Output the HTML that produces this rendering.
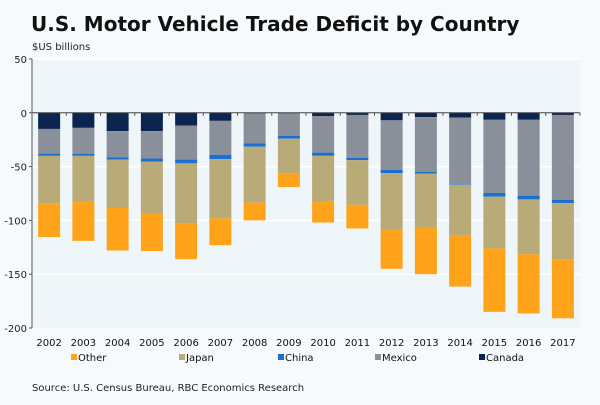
<!DOCTYPE html>
<html><head><meta charset="utf-8"><style>
body{margin:0;background:#f6fafc;}
svg{display:block;font-family:"DejaVu Sans","Liberation Sans",sans-serif;}
</style></head><body>
<svg width="600" height="405" id="c">
<rect x="0" y="0" width="600" height="405" fill="#f6fafc"/>
<text x="31" y="31" font-size="20" font-weight="bold" fill="#111">U.S. Motor Vehicle Trade Deficit by Country</text>
<text x="32" y="50" font-size="10" fill="#222">$US billions</text>
<rect x="32" y="59" width="548" height="269" fill="#eef6fa"/>
<g id="grid"></g><g id="bars"></g><g id="axes"></g><g id="legend"></g>
<text x="32" y="391" font-size="10" fill="#222">Source: U.S. Census Bureau,  RBC Economics Research</text>
</svg>
<script>
const years=["2002","2003","2004","2005","2006","2007","2008","2009","2010","2011","2012","2013","2014","2015","2016","2017"];
const canada=[15,14,17,17,12,7.5,0.5,0.5,3,2,7,4,4.5,6.5,6.5,2];
const mexico=[23,24,24.5,25.5,31.5,31.5,28,21,34,40,46,51,62,68,70.5,79];
const china=[2,2,2,3,3.5,4,3,2.5,3,2,3,1.5,0.5,3.5,3.5,3];
const japan=[44,42,44.5,48.5,56,55,52,32,42,41.5,53,50.5,46.5,48,51,52];
const other=[31.5,37,40,34.5,33,25,16.5,13,20,22,36,43,48,59,55,55];
const yTicks=[50,0,-50,-100,-150,-200];
const seriesNames=["Canada","Mexico","China","Japan","Other"];
const colors={Canada:"#0b2550",Mexico:"#8a9099",China:"#1a6fd0",Japan:"#b8ab78",Other:"#ffa31a"};
const series={Canada:canada,Mexico:mexico,China:china,Japan:japan,Other:other};
const NS="http://www.w3.org/2000/svg";
const x0=32,x1=580,yTop=59,yBot=328,vMax=50,vMin=-200;
const y=v=>yTop+(vMax-v)/(vMax-vMin)*(yBot-yTop);
const slot=(x1-x0)/years.length;
const xc=i=>x0+slot*(i+0.5);
function mk(tag,attrs,parent){const e=document.createElementNS(NS,tag);for(const k in attrs)e.setAttribute(k,attrs[k]);parent.appendChild(e);return e;}
const grid=document.getElementById('grid'),bars=document.getElementById('bars'),axes=document.getElementById('axes'),leg=document.getElementById('legend');
yTicks.forEach(t=>{
  if(t!==0&&t!==vMin){const l=mk('line',{x1:x0,x2:x1,y1:y(t),y2:y(t),stroke:"#ffffff","stroke-width":1.5},grid);
  
  }
  const tx=mk('text',{x:27,y:y(t)+4,"font-size":10,"text-anchor":"end",fill:"#222"},axes);tx.textContent=t;
  
  
  const tk=mk('line',{x1:x0-3,x2:x0,y1:y(t),y2:y(t),stroke:"#555"},axes);
  
  
});
const bw=22;
years.forEach((yr,i)=>{
  let cum=0;
  seriesNames.forEach(s=>{
    const v=series[s][i];
    const r=mk('rect',{x:xc(i)-bw/2,y:y(-cum),width:bw,height:Math.max(0,y(-cum-v)-y(-cum)),fill:colors[s]},bars);
    
    
    cum+=v;
  });
  const tx=mk('text',{x:xc(i),y:346,"font-size":10,"text-anchor":"middle",fill:"#111"},axes);tx.textContent=yr;
  
  
  const tk=mk('line',{x1:x0+slot*(i+1),x2:x0+slot*(i+1),y1:y(0),y2:y(0)+3,stroke:"#555"},axes);
  
  
});
const za=mk('line',{x1:x0,x2:x1,y1:y(0),y2:y(0),stroke:"#444"},axes);


const ya=mk('line',{x1:x0,x2:x0,y1:yTop,y2:yBot,stroke:"#555"},axes);


const legOrder=["Other","Japan","China","Mexico","Canada"];
const legX=[73,181,280,377,481];
legOrder.forEach((s,k)=>{
  const g=mk('g',{},leg);
  
  
  mk('rect',{x:legX[k]-2,y:354,width:6,height:6,fill:colors[s]},g);
  const t=mk('text',{x:legX[k]+5,y:361,"font-size":10,fill:"#111"},g);t.textContent=s;
});
</script>
</body></html>
